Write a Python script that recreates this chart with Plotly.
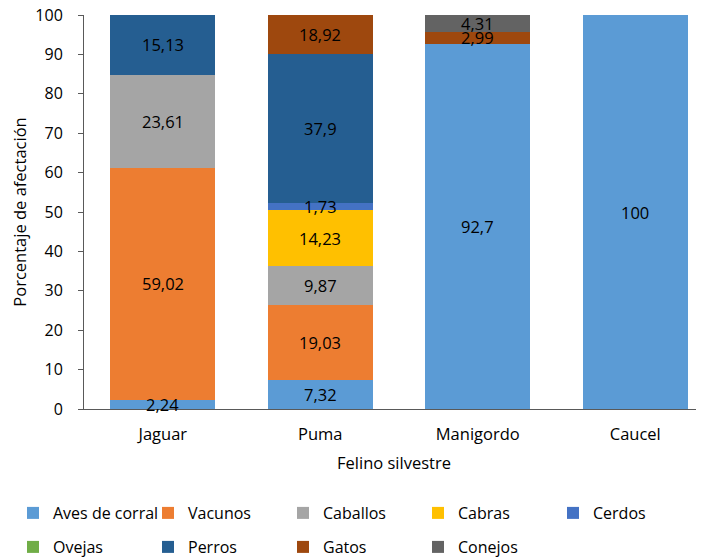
import plotly.graph_objects as go

felinos = ["Jaguar", "Puma", "Manigordo", "Caucel"]

aves_de_corral = [2.24, 7.32, 92.7, 100]
vacunos = [59.02, 19.03, 0, 0]
caballos = [23.61, 9.87, 0, 0]
cabras = [0, 14.23, 0, 0]
cerdos = [0, 1.73, 0, 0]
ovejas = [0, 0, 0, 0]
perros = [15.13, 37.9, 0, 0]
gatos = [0, 18.92, 2.99, 0]
conejos = [0, 0, 4.31, 0]

series = [
    ("Aves de corral", aves_de_corral, "#5B9BD5"),
    ("Vacunos", vacunos, "#ED7D31"),
    ("Caballos", caballos, "#A5A5A5"),
    ("Cabras", cabras, "#FFC000"),
    ("Cerdos", cerdos, "#4472C4"),
    ("Ovejas", ovejas, "#70AD47"),
    ("Perros", perros, "#255E91"),
    ("Gatos", gatos, "#9E480E"),
    ("Conejos", conejos, "#636363"),
]

font_family = "Open Sans, Liberation Sans, sans-serif"
fsize = 16.5
y_max = 100

# la pagina tiene 8 px de margen en el body: la figura se dibuja en 696x550
W, H = 696, 550
L, T, B = 76, 7, 149
plot_h = H - T - B
cat_px = 157.5

fig = go.Figure()
annotations = []
base = [0] * len(felinos)
for i, (name, vals, color) in enumerate(series):
    fig.add_trace(go.Bar(
        x=felinos, y=vals, name=name,
        marker=dict(color=color, line=dict(width=0)),
        legend="legend" if i < 5 else "legend2",
    ))
    # etiquetas centradas en la parte visible de cada segmento
    for j, v in enumerate(vals):
        if v > 0:
            lo = base[j]
            hi = min(base[j] + v, y_max)
            annotations.append(dict(
                x=felinos[j], y=(lo + hi) / 2, text=f"{v:g}".replace(".", ","),
                showarrow=False, font=dict(size=fsize, color="#000000", family=font_family),
                xref="x", yref="y",
            ))
        base[j] += v

legend_common = dict(
    orientation="h",
    traceorder="normal",
    xanchor="left", yanchor="middle",
    font=dict(size=16, color="#000000", family=font_family),
    entrywidth=90, entrywidthmode="pixels",
    itemwidth=30,
    bgcolor="rgba(0,0,0,0)",
)
leg_x = (5 - L) / (W - L)

fig.update_layout(
    barmode="stack",
    bargap=0.333,
    width=W, height=H,
    margin=dict(l=L, r=0, t=T, b=B, autoexpand=False),
    plot_bgcolor="white", paper_bgcolor="white",
    font=dict(family=font_family, size=fsize, color="#000000"),
    annotations=annotations,
    legend=dict(legend_common, x=leg_x, y=(H - B - 505) / plot_h),
    legend2=dict(legend_common, x=leg_x, y=(H - B - 539) / plot_h),
)

fig.update_xaxes(
    range=[-0.5, (W - L) / cat_px - 0.5],
    showline=True, linecolor="#595959", linewidth=1,
    ticks="", showgrid=False, automargin=False,
    tickfont=dict(size=fsize, color="#000000"),
    ticklabelstandoff=10,
    title=dict(text="Felino silvestre", font=dict(size=fsize, color="#000000"), standoff=13),
)
fig.update_yaxes(
    range=[0, y_max], dtick=10,
    showline=True, linecolor="#595959", linewidth=1,
    ticks="outside", ticklen=5, tickcolor="#595959",
    showgrid=False, zeroline=False, automargin=False,
    tickfont=dict(size=16, color="#000000"),
    ticklabelstandoff=12, ticklabeloverflow="allow",
    title=dict(text="Porcentaje de afectación", font=dict(size=fsize, color="#000000"), standoff=12),
)

fig.write_html("out.html")
